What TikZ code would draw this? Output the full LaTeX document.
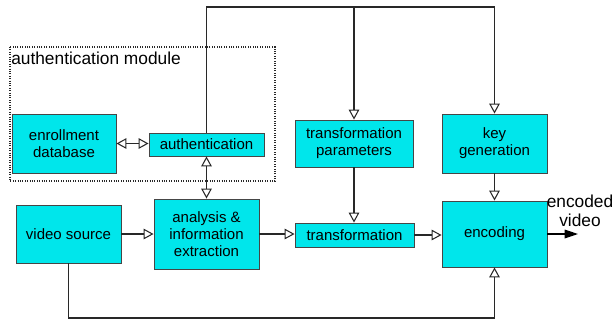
\documentclass[tikz,border=0pt]{standalone}
\usepackage{fontspec}
\setmainfont{Liberation Sans}
\usetikzlibrary{arrows.meta}
\definecolor{boxcyan}{RGB}{0,230,235}
\definecolor{boxedge}{RGB}{70,70,70}
\definecolor{wire}{RGB}{40,40,40}

\tikzset{
  block/.style={draw=boxedge,fill=boxcyan,line width=0.7pt,align=center,inner sep=0pt,
    font=\fontsize{11.25}{12.6}\selectfont},
  dims/.style 2 args={minimum width=#1*0.75pt,minimum height=#2*0.75pt},
  hollow/.tip={Triangle[open,length=7.5pt,width=8pt,line width=0.8pt]},
  flow/.style={draw=wire,line width=0.9pt,-hollow},
  twoway/.style={draw=wire,line width=0.9pt,hollow-hollow},
  plain/.style={draw=wire,line width=0.9pt},
  result/.style={draw=black,line width=0.9pt,-{Triangle[length=10pt,width=6.5pt]}},
  biglabel/.style={inner sep=0pt,font=\fontsize{13}{14.5}\selectfont}
}

\begin{document}
\begin{tikzpicture}[x=0.75pt,y=-0.75pt]
  \useasboundingbox (0,0) rectangle (616,326);

  % authentication module frame
  \draw[densely dotted,line width=0.8pt,draw=wire] (10,47) rectangle (275,181);
  \node[biglabel,anchor=base west] (modlabel) at (11,64) {authentication module};

  % blocks
  \node[block,dims={104}{59}] (enroll) at (64,143.5) {enrollment\\database};
  \node[block,dims={115}{23}] (auth) at (206.5,144.5) {authentication};
  \node[block,dims={118}{47}] (tparam) at (354,143.5) {transformation\\parameters};
  \node[block,dims={105}{59}] (keygen) at (494.5,143.5) {key\\generation};
  \node[block,dims={105}{58}] (video) at (68.5,234) {video source};
  \node[block,dims={105}{70}] (analysis) at (206.5,234) {analysis \&\\information\\extraction};
  \node[block,dims={119}{24}] (transf) at (354.5,235) {transformation};
  \node[block,dims={105}{66}] (encoding) at (494.5,234) {encoding};

  \node[biglabel,align=center] (enclabel) at (580,211) {encoded\\video};

  \coordinate (topline) at (0,7);
  \coordinate (bottomline) at (0,318);
  \coordinate (outend) at (578,234);

  % key path from authentication over the top
  \draw[plain] (auth.north) -- (auth.north |- topline) -- (keygen.north |- topline);
  \draw[flow] (keygen.north |- topline) -- (keygen.north);
  \draw[flow] (tparam.north |- topline) -- (tparam.north);

  \draw[twoway] (enroll.east) -- (enroll.east -| auth.west);
  \draw[twoway] (auth.south) -- (analysis.north);

  % main chain
  \draw[flow] (video.east) -- (analysis.west);
  \draw[flow] (analysis.east) -- (analysis.east -| transf.west);
  \draw[flow] (tparam.south) -- (tparam.south |- transf.north);
  \draw[flow] (transf.east) -- (transf.east -| encoding.west);
  \draw[flow] (keygen.south) -- (encoding.north);
  \draw[flow] (video.south) |- (encoding.south |- bottomline) -- (encoding.south);
  \draw[result] (encoding.east) -- (outend);
\end{tikzpicture}
\end{document}
